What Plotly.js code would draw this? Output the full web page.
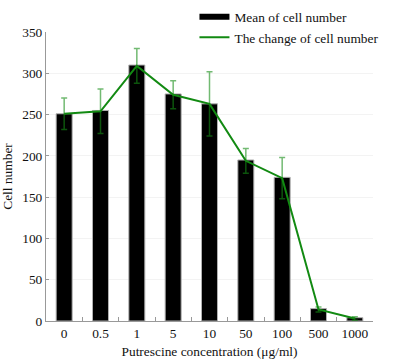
<!DOCTYPE html>
<html>
<head>
<meta charset="utf-8">
<script src="https://cdn.plot.ly/plotly-3.0.1.min.js"></script>
<style>html,body{margin:0;padding:0;background:#fff;}#chart{width:405px;height:364px;}</style>
</head>
<body>
<div id="chart"></div>
<script>
const categories = ["0", "0.5", "1", "5", "10", "50", "100", "500", "1000"];
const meanCells = [251, 255, 310, 275, 263, 195, 174, 15, 4];
const changeCells = [251, 254, 309, 274, 263, 194, 173, 14, 3];
const errorCells = [19, 27, 21, 17, 39, 15, 25, 3, 2];
const yTicks = [0, 50, 100, 150, 200, 250, 300, 350];

const font = {family: "Liberation Serif, Times New Roman, serif", size: 13.4, color: "#111"};

const traces = [
  {
    type: "bar", x: categories, y: meanCells, width: 0.44,
    name: "Mean of cell number", showlegend: false,
    marker: {color: "#000", line: {color: "#b0b0b0", width: 1}}
  },
  {
    type: "scatter", mode: "lines", x: categories, y: changeCells,
    name: "The change of cell number", showlegend: false,
    line: {color: "#128a12", width: 2},
    error_y: {type: "data", array: errorCells, visible: true, color: "rgba(20,140,20,0.6)", thickness: 1.5, width: 3}
  },
  {
    type: "scatter", mode: "lines", x: [null], y: [null],
    name: "Mean of cell number", line: {color: "#000", width: 6}
  },
  {
    type: "scatter", mode: "lines", x: [null], y: [null],
    name: "The change of cell number", line: {color: "#128a12", width: 2}
  }
];

const layout = {
  width: 405, height: 364,
  margin: {l: 45.5, r: 31.5, t: 31.7, b: 43.3, autoexpand: false},
  paper_bgcolor: "#fff", plot_bgcolor: "#fff",
  font: font,
  showlegend: true,
  legend: {x: 0.454, y: 1.105, xanchor: "left", yanchor: "top", bgcolor: "rgba(0,0,0,0)", font: font, tracegroupgap: 0, itemwidth: 30},
  xaxis: {
    type: "category", categoryorder: "array", categoryarray: categories,
    range: [-0.5, 8.5], showline: true, linecolor: "#999", linewidth: 1,
    ticks: "inside", tickson: "boundaries", ticklen: 4, tickcolor: "#999",
    showgrid: false, zeroline: false,
    title: {text: "Putrescine concentration (μg/ml)", font: font, standoff: 6},
    tickfont: font
  },
  yaxis: {
    range: [0, 350], tickvals: yTicks, ticktext: yTicks.map(String),
    showline: true, linecolor: "#999", linewidth: 1,
    ticks: "inside", ticklen: 3, tickcolor: "#999",
    showgrid: true, gridcolor: "#f3f3f3", zeroline: false,
    title: {text: "Cell number", font: font, standoff: 6},
    tickfont: font
  }
};

Plotly.newPlot("chart", traces, layout, {displayModeBar: false, staticPlot: true});
</script>
</body>
</html>
